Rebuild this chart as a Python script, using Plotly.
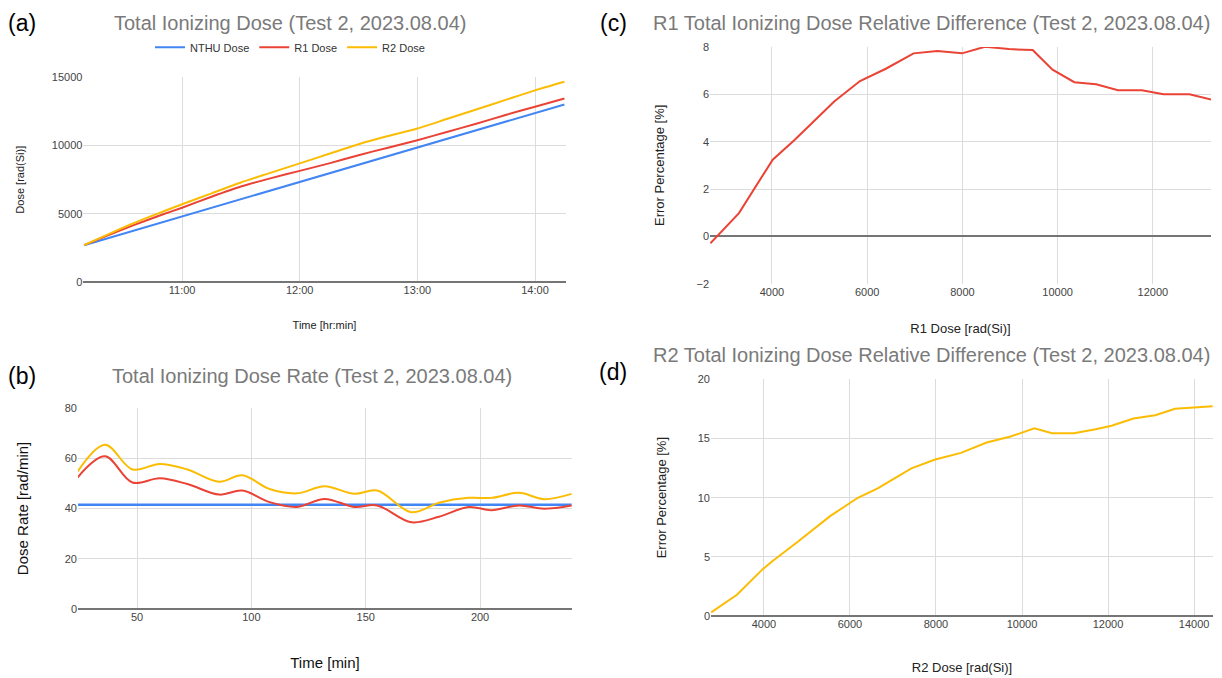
import plotly.graph_objects as go

W, H = 1222, 678

# ---------------- data ----------------
# (a) Total Ionizing Dose vs time
time_nthu = ["2023-08-04 10:10", "2023-08-04 11:00", "2023-08-04 12:00",
             "2023-08-04 13:00", "2023-08-04 14:00", "2023-08-04 14:15"]
dose_nthu = [2700, 4800, 7330, 9830, 12380, 13020]

time_r = ["2023-08-04 10:10", "2023-08-04 10:20", "2023-08-04 10:35", "2023-08-04 10:50",
          "2023-08-04 11:00", "2023-08-04 11:15", "2023-08-04 11:30", "2023-08-04 11:45",
          "2023-08-04 12:00", "2023-08-04 12:15", "2023-08-04 12:30", "2023-08-04 12:45",
          "2023-08-04 13:00", "2023-08-04 13:15", "2023-08-04 13:30", "2023-08-04 13:45",
          "2023-08-04 14:00", "2023-08-04 14:15"]
dose_r1 = [2700, 3300, 4150, 4950, 5450, 6250, 7000, 7600, 8150, 8700, 9300, 9850,
           10400, 11000, 11600, 12250, 12850, 13450]
dose_r2 = [2700, 3350, 4300, 5150, 5700, 6500, 7300, 8000, 8700, 9400, 10100, 10700,
           11250, 11950, 12650, 13350, 14050, 14680]

# (b) Total Ionizing Dose Rate vs time [min]
rate_time = [24, 36, 48, 60, 72, 86, 96, 108, 120, 132, 145, 155, 170, 182, 195, 205, 217, 228, 240]
rate_nthu = [41.5] * len(rate_time)
rate_r1 = [52.3, 60.7, 50.3, 52.0, 49.7, 45.5, 47.1, 42.5, 40.6, 43.8, 40.6, 41.2,
           34.5, 36.7, 40.6, 39.3, 41.2, 39.9, 41.2]
rate_r2 = [54.6, 65.3, 55.5, 57.7, 55.5, 50.6, 53.2, 47.7, 46.0, 48.8, 45.8, 47.1,
           38.5, 42.3, 44.2, 44.2, 46.2, 43.7, 45.8]

# (c) R1 relative difference
r1_dose = [2708, 3308, 4017, 4475, 5308, 5850, 6392, 6975, 7475, 7992, 8475, 8975,
           9475, 9892, 10350, 10808, 11267, 11767, 12225, 12767, 13250]
r1_err = [-0.29, 0.98, 3.24, 4.07, 5.70, 6.56, 7.08, 7.73, 7.83, 7.73, 8.01, 7.91,
          7.87, 7.04, 6.51, 6.42, 6.17, 6.17, 6.00, 6.00, 5.77]

# (d) R2 relative difference
r2_dose = [2774, 3373, 3972, 4203, 4802, 5539, 6184, 6645, 7429, 7982, 8581, 9180,
           9733, 10286, 10700, 11207, 11714, 12083, 12590, 13097, 13558, 14433]
r2_err = [0.30, 1.80, 3.96, 4.65, 6.31, 8.44, 9.99, 10.79, 12.48, 13.22, 13.78, 14.66,
          15.16, 15.85, 15.44, 15.44, 15.77, 16.07, 16.68, 16.96, 17.51, 17.73]

BLUE, RED, YELLOW = "#4285F4", "#EA4335", "#FBBC04"
FONT = "Arial, Liberation Sans, Helvetica, sans-serif"

fig = go.Figure()

# (a)
fig.add_trace(go.Scatter(x=time_nthu, y=dose_nthu, name="NTHU Dose", mode="lines",
                         line=dict(color=BLUE, width=2), xaxis="x", yaxis="y"))
fig.add_trace(go.Scatter(x=time_r, y=dose_r1, name="R1 Dose", mode="lines",
                         line=dict(color=RED, width=2, shape="spline", smoothing=0.6),
                         xaxis="x", yaxis="y"))
fig.add_trace(go.Scatter(x=time_r, y=dose_r2, name="R2 Dose", mode="lines",
                         line=dict(color=YELLOW, width=2, shape="spline", smoothing=0.6),
                         xaxis="x", yaxis="y"))
# (b)
fig.add_trace(go.Scatter(x=rate_time, y=rate_nthu, mode="lines", showlegend=False,
                         line=dict(color=BLUE, width=2.5), xaxis="x2", yaxis="y2"))
fig.add_trace(go.Scatter(x=rate_time, y=rate_r1, mode="lines", showlegend=False,
                         line=dict(color=RED, width=2, shape="spline", smoothing=1.0),
                         xaxis="x2", yaxis="y2"))
fig.add_trace(go.Scatter(x=rate_time, y=rate_r2, mode="lines", showlegend=False,
                         line=dict(color=YELLOW, width=2, shape="spline", smoothing=1.0),
                         xaxis="x2", yaxis="y2"))
# (c)
fig.add_trace(go.Scatter(x=r1_dose, y=r1_err, mode="lines", showlegend=False,
                         line=dict(color=RED, width=2), xaxis="x3", yaxis="y3"))
# (d)
fig.add_trace(go.Scatter(x=r2_dose, y=r2_err, mode="lines", showlegend=False,
                         line=dict(color=YELLOW, width=2), xaxis="x4", yaxis="y4"))

GRID = "#dcdcdc"
TICKF = dict(family=FONT, size=11, color="#444444")


def xdom(l, r):
    return [l / W, r / W]


def ydom(top, bottom):
    return [1 - bottom / H, 1 - top / H]


common_x = dict(showgrid=True, gridcolor=GRID, gridwidth=1, zeroline=False, showline=False,
                ticks="", tickfont=TICKF)
common_y = dict(showgrid=True, gridcolor=GRID, gridwidth=1, zeroline=True,
                zerolinecolor="#757575", zerolinewidth=1.5, showline=False, ticks="",
                tickfont=TICKF, tickformat="d")

fig.update_layout(
    width=W, height=H, autosize=False,
    margin=dict(l=0, r=0, t=0, b=0),
    paper_bgcolor="white", plot_bgcolor="white",
    font=dict(family=FONT, color="#333333"),
    showlegend=True,
    legend=dict(orientation="h", x=290 / W, xanchor="center", y=1 - 42 / H, yanchor="middle",
                font=dict(family=FONT, size=11, color="#333333"), itemwidth=30,
                bgcolor="rgba(0,0,0,0)"),
    xaxis=dict(common_x, domain=xdom(83.4, 565.6), anchor="y", type="date",
               range=["2023-08-04 10:09:40", "2023-08-04 14:15:36"],
               tick0="2023-08-04 11:00", dtick=3600000, tickformat="%H:%M",
               title=dict(text="Time [hr:min]", font=dict(size=11, color="#222222"), standoff=26)),
    yaxis=dict(common_y, domain=ydom(72.7, 281), anchor="x", range=[0, 15000],
               tickvals=[0, 5000, 10000, 15000],
               title=dict(text="Dose [rad(Si)]", font=dict(size=11, color="#222222"), standoff=24)),
    xaxis2=dict(common_x, domain=xdom(78, 572), anchor="y2", range=[24.2, 240.2],
                tickvals=[50, 100, 150, 200], tickformat="d",
                title=dict(text="Time [min]", font=dict(size=15, color="#111111"), standoff=35)),
    yaxis2=dict(common_y, domain=ydom(409, 614), anchor="x2", range=[0, 80],
                tickvals=[0, 20, 40, 60, 80],
                title=dict(text="Dose Rate [rad/min]", font=dict(size=15, color="#111111"), standoff=32)),
    xaxis3=dict(common_x, domain=xdom(710, 1211), anchor="y3", range=[2700, 13220],
                tickvals=[4000, 6000, 8000, 10000, 12000], tickformat="d",
                title=dict(text="R1 Dose [rad(Si)]", font=dict(size=13, color="#222222"), standoff=27)),
    yaxis3=dict(common_y, domain=ydom(41.7, 282.7), anchor="x3", range=[-2, 8],
                tickvals=[-2, 0, 2, 4, 6, 8],
                title=dict(text="Error Percentage [%]", font=dict(size=13, color="#222222"), standoff=28)),
    xaxis4=dict(common_x, domain=xdom(711, 1213), anchor="y4", range=[2770, 14440],
                tickvals=[4000, 6000, 8000, 10000, 12000, 14000], tickformat="d",
                title=dict(text="R2 Dose [rad(Si)]", font=dict(size=13, color="#222222"), standoff=33)),
    yaxis4=dict(common_y, domain=ydom(380, 621), anchor="x4", range=[0, 20],
                tickvals=[0, 5, 10, 15, 20],
                title=dict(text="Error Percentage [%]", font=dict(size=13, color="#222222"), standoff=28)),
)

TITLE_F = dict(family=FONT, size=20, color="#7a7a7a")
LABEL_F = dict(family=FONT, size=23, color="#000000")

titles = [
    ("Total Ionizing Dose (Test 2, 2023.08.04)", 290, 17),
    ("Total Ionizing Dose Rate (Test 2, 2023.08.04)", 312, 377),
    ("R1 Total Ionizing Dose Relative Difference (Test 2, 2023.08.04)", 932, 17),
    ("R2 Total Ionizing Dose Relative Difference (Test 2, 2023.08.04)", 932, 355),
]
for t, cx, cy in titles:
    fig.add_annotation(text=t, x=cx / W, y=1 - cy / H, xref="paper", yref="paper",
                       xanchor="center", yanchor="middle", showarrow=False, font=TITLE_F)

labels = [("(a)", 22, 17), ("(b)", 22, 377), ("(c)", 613, 17), ("(d)", 613, 373)]
for t, cx, cy in labels:
    fig.add_annotation(text=t, x=cx / W, y=1 - cy / H, xref="paper", yref="paper",
                       xanchor="center", yanchor="middle", showarrow=False, font=LABEL_F)

fig.write_html("out.html")
